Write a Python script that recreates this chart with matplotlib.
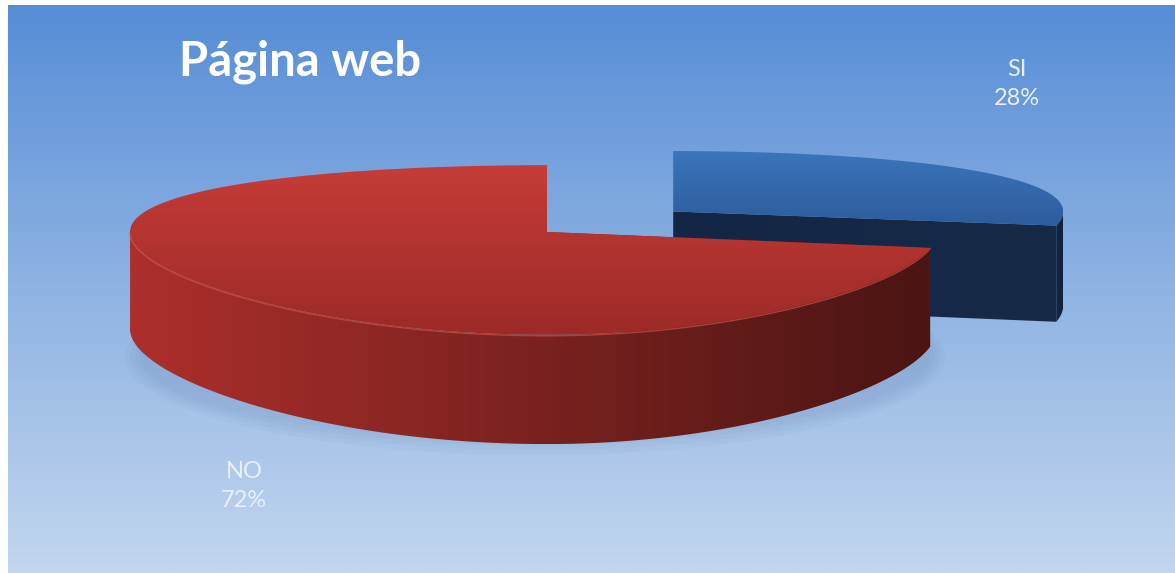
import numpy as np
import matplotlib.pyplot as plt
from matplotlib.patches import Polygon, Ellipse
from matplotlib.colors import LinearSegmentedColormap

# data
labels = ['SI', 'NO']
values = [28, 72]
pct_labels = ['28%', '72%']
title = 'Página web'

W, H = 1175, 573

# pie geometry (pixels) - fake perspective like the office 3D pie
CX, CY = 547, 232
R_LEFT, R_RIGHT = 417, 390
S = 81
K = 0.212
DEPTH = 97
explode = [0.42, 0.0]

top_cols = [('#3b75bb', '#2d5c9c'), ('#c63c38', '#9c2a27')]
side_cols = [('#142645', '#13223d'), ('#ac2f2c', '#4a1513')]
cut_cols = [('#142645', '#172a48'), ('#8a2522', '#5a1916')]
label_pos = [(1017, 84), (244, 486)]


def project(u, v, drop=0.0):
    u = np.asarray(u, dtype=float)
    v = np.asarray(v, dtype=float)
    w = 1 + K * v
    r = np.where(u < 0, R_LEFT, R_RIGHT)
    x = CX + r * u
    y = CY - S * v / w + drop * DEPTH / np.sqrt(w)
    return x, y


def fill_gradient(ax, xs, ys, c0, c1, direction='v', zorder=2):
    poly = Polygon(np.column_stack([xs, ys]), closed=True,
                   facecolor='none', edgecolor='none', zorder=zorder)
    ax.add_patch(poly)
    cmap = LinearSegmentedColormap.from_list('g', [c0, c1])
    grad = np.linspace(0, 1, 256)
    img = grad[:, None] if direction == 'v' else grad[None, :]
    im = ax.imshow(img, cmap=cmap, aspect='auto', interpolation='bicubic',
                   extent=(xs.min(), xs.max(), ys.max(), ys.min()),
                   zorder=zorder)
    im.set_clip_path(poly)


fig = plt.figure(figsize=(W / 100, H / 100), dpi=100)
fig.patch.set_facecolor('white')
ax = fig.add_axes([0, 0, 1, 1])

# background gradient
bg = LinearSegmentedColormap.from_list('bg', ['#568dd6', '#8fb3e3', '#c2d6ef'])
ax.imshow(np.linspace(0, 1, 256)[:, None], cmap=bg, aspect='auto',
          extent=(8, W, H, 5), zorder=0)

# soft shadow under the pie
for i in range(4):
    ax.add_patch(Ellipse((CX - 12, CY + 125), 2 * R_LEFT - 14 - i * 10,
                         196 - i * 10, facecolor='#4a6a9a', alpha=0.045,
                         edgecolor='none', zorder=1))

fracs = np.array(values) / sum(values)
ends = 90 - 360 * np.cumsum(fracs)
starts = ends + 360 * fracs

for i in range(len(values)):
    a0, a1 = np.radians(ends[i]), np.radians(starts[i])
    mid = (a0 + a1) / 2
    u0, v0 = explode[i] * np.cos(mid), explode[i] * np.sin(mid)
    z = 2 + i * 4

    # cut faces
    for a in (a0, a1):
        ut, vt = u0 + np.cos(a), v0 + np.sin(a)
        xs, ys = [], []
        for (uu, vv, d) in [(u0, v0, 0), (ut, vt, 0), (ut, vt, 1), (u0, v0, 1)]:
            x, y = project(uu, vv, d)
            xs.append(float(x))
            ys.append(float(y))
        fill_gradient(ax, np.array(xs), np.array(ys), *cut_cols[i],
                      direction='h', zorder=z)

    # outer rim, front part only
    t = np.linspace(a0, a1, 400)
    t = t[np.sin(t) <= 0.02]
    if len(t) > 1:
        xt, yt = project(u0 + np.cos(t), v0 + np.sin(t), 0)
        xb, yb = project(u0 + np.cos(t), v0 + np.sin(t), 1)
        xs = np.concatenate([xt, xb[::-1]])
        ys = np.concatenate([yt, yb[::-1]])
        fill_gradient(ax, xs, ys, *side_cols[i], direction='h', zorder=z + 1)

    # top face
    t = np.linspace(a0, a1, 400)
    xr, yr = project(u0 + np.cos(t), v0 + np.sin(t), 0)
    xa, ya = project(u0, v0, 0)
    xs = np.concatenate([[float(xa)], xr])
    ys = np.concatenate([[float(ya)], yr])
    fill_gradient(ax, xs, ys, *top_cols[i], direction='v', zorder=z + 2)

    # faint highlight along the front edge of the top face
    tf = t[np.sin(t) <= 0]
    if i == 1 and len(tf) > 1:
        xh, yh = project(u0 + np.cos(tf), v0 + np.sin(tf), 0)
        ax.plot(xh, yh + 1, color='#c8514b', lw=1.0, alpha=0.7, zorder=z + 3)

    lx, ly = label_pos[i]
    ax.text(lx, ly, f'{labels[i]}\n{pct_labels[i]}', ha='center',
            va='center', fontsize=17, color='#e9f0fa', family='Lato',
            linespacing=1.45, zorder=20)

ax.text(300, 62, title, ha='center', va='center', fontsize=34,
        fontweight='bold', color='white', family='Lato', zorder=20)

ax.set_xlim(0, W)
ax.set_ylim(H, 0)
ax.axis('off')

fig.savefig('out.png', dpi=100, facecolor='white')
